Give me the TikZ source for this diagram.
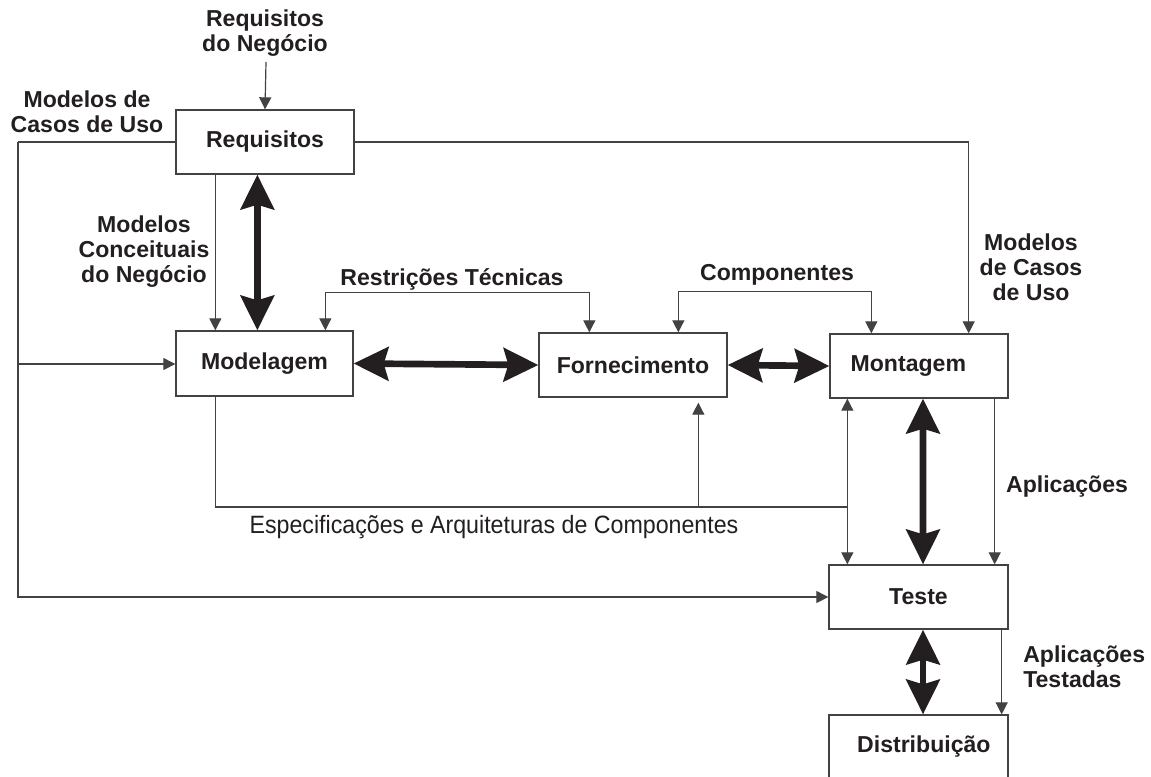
\documentclass[tikz,border=0pt]{standalone}
\usepackage{fontspec}
\setmainfont{Liberation Sans}
\usetikzlibrary{arrows.meta}
\definecolor{ink}{HTML}{231F20}
\tikzset{
  box/.style={draw=ink!85, line width=1pt, fill=white, inner sep=0pt, font=\fontsize{17.3}{19}\selectfont\bfseries, text=ink, minimum height=48pt},
  lbl/.style={font=\fontsize{17.3}{18.8}\selectfont\bfseries, text=ink, align=center, inner sep=0pt},
  thinln/.style={draw=ink!85, line width=0.9pt},
  thinarr/.style={thinln, -{Triangle[length=9pt,width=9pt]}},
  thinboth/.style={thinln, {Triangle[length=9pt,width=9pt]}-{Triangle[length=9pt,width=9pt]}},
  thick2/.style={draw=ink, line width=5pt, {Stealth[length=26pt,width=25pt,inset=3.5pt]}-{Stealth[length=26pt,width=25pt,inset=3.5pt]}}
}
\begin{document}
\begin{tikzpicture}[x=0.75pt,y=-0.75pt]
\useasboundingbox (0,0) rectangle (1151,776);
\clip (0,0) rectangle (1151,776);
\fill[white] (0,0) rectangle (1151,776);

% boxes
\node[box, minimum width=133.5pt] (req) at (265,142) {Requisitos};
\node[box, minimum width=132.75pt, minimum height=48.75pt] (mod) at (264.5,363.5) {Modelagem};
\node[box, minimum width=141pt] (for) at (633,365) {Fornecimento};
\node[box, minimum width=133.5pt] (mon) at (919,366) {\hspace*{-16pt}Montagem};
\node[box, minimum width=134.25pt] (tes) at (918.5,597) {Teste};
\node[box, minimum width=134.25pt] (dis) at (918.5,747) {\hspace*{8pt}Distribuição};

% labels
\node[lbl] (lrn) at (265,33) {Requisitos\\do Negócio};
\node[lbl] (lmcu) at (87,112) {Modelos de\\Casos de Uso};
\node[lbl] (lmcn) at (144,252) {Modelos\\Conceituais\\do Negócio};
\node[lbl] (lmcu2) at (1031,267) {Modelos\\de Casos\\de Uso};
\node[lbl] (lrt) at (452,279) {Restrições Técnicas};
\node[lbl] (lcomp) at (777,275) {Componentes};
\node[lbl] (lapl) at (1067,487) {Aplicações};
\node[lbl, align=left, anchor=west] (lapt) at (1023,667) {Aplicações\\Testadas};
\node[font=\fontsize{17.4}{19}\selectfont, text=ink, inner sep=0pt, yscale=1.08] (lesp) at (494,527) {Especificações e Arquiteturas de Componentes};

% coordinates
\coordinate (top) at (266,62);
\coordinate (lft) at (18,142);
\coordinate (lftm) at (18,364);
\coordinate (J) at (848,507);

% thin connectors
\draw[thinarr] (top) -- (req.north);
\draw[thinln] (req.west) -- (lft);
\draw[thinarr] (lft) |- (tes.west);
\draw[thinarr] (lftm) -- (lftm -| mod.west);
\draw[thinarr] (req.east) -| ([xshift=-30pt]mon.north east);
\draw[thinarr] ([xshift=30pt]req.south west) -- ([xshift=30pt]mod.north west);
\draw[thinboth] ([xshift=112.5pt]mod.north west) -- ++(0,-38) -| ([xshift=38.25pt]for.north west);
\draw[thinboth] ([xshift=105pt]for.north west) -- ++(0,-41) -| ([xshift=31.5pt]mon.north west);
\draw[thinln] ([xshift=30pt]mod.south west) |- (J);
\draw[thinarr] ([xshift=120pt]for.south west |- J) -- ([xshift=120pt,yshift=-3.75pt]for.south west);
\draw[thinboth] ([xshift=13.5pt]mon.south west) -- ([xshift=14.25pt]tes.north west);
\draw[thinarr] ([xshift=-10.5pt]mon.south east) -- ([xshift=-10.5pt]tes.north east);
\draw[thinarr] ([xshift=-5.25pt]tes.south east) -- ([xshift=-5.25pt]dis.north east);

% thick double arrows
\draw[thick2] ([xshift=61.5pt]req.south west) -- ([xshift=61.5pt]mod.north west);
\draw[thick2] (mod.east) -- (for.west);
\draw[thick2] (for.east) -- (mon.west);
\draw[thick2] ([xshift=3pt]mon.south) -- ([xshift=3.4pt]tes.north);
\draw[thick2] ([xshift=3.4pt]tes.south) -- ([xshift=3.4pt]dis.north);
\end{tikzpicture}
\end{document}
